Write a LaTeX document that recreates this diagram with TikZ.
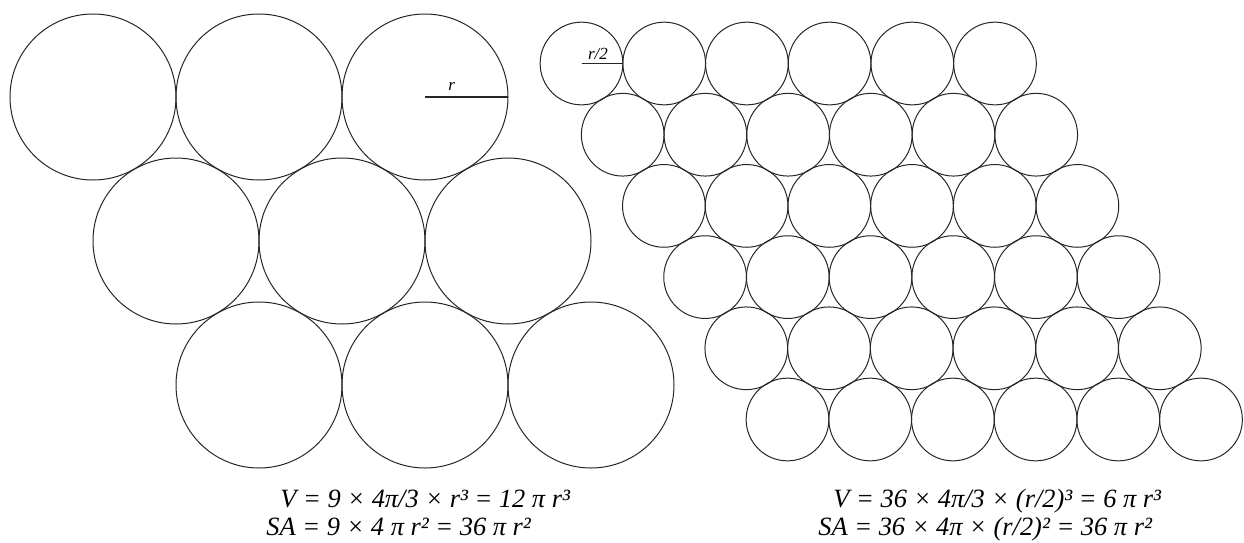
\documentclass[tikz,border=0pt]{standalone}
\usepackage{fontspec}
\setmainfont{Liberation Serif}
\usepackage{tikz}
\usetikzlibrary{positioning}

\begin{document}
\begin{tikzpicture}[
    x=0.5pt, y=-0.5pt,
    ball/.style={circle, draw=black!85, line width=0.5pt, inner sep=0pt,
                 outer sep=0pt, minimum size=#1},
    bigball/.style={ball=83pt},
    smallball/.style={ball=41.35pt},
    radius line/.style={draw=black!85, line width=0.6pt},
    radlabel/.style={font=\itshape\fontsize{8.5}{10}\selectfont, inner sep=1.5pt},
    formula/.style={font=\itshape\fontsize{13.2}{15}\selectfont, inner sep=0pt, anchor=base west}
]
\useasboundingbox (0,0) rectangle (1244,542);

% Large spheres, radius r
\foreach \row in {0,1,2}
  \foreach \col in {0,1,2}
    \node[bigball] (big-\row-\col) at ({93+166*\col+83*\row},{97+144*\row}) {};

% Small spheres, radius r/2
\foreach \row in {0,...,5}
  \foreach \col in {0,...,5}
    \node[smallball] (small-\row-\col) at ({581.5+82.7*\col+41.2*\row},{63.5+71.2*\row}) {};

% Radii
\draw[radius line] (big-0-2.center) -- node[radlabel, pos=0.32, above, inner sep=3pt] {r} (big-0-2.east);
\draw[radius line] (small-0-0.center) -- node[radlabel, pos=0.4, above] {r/2} (small-0-0.east);

% Formulas
\node[formula] (vol-big) at (280,507) {V = 9 × 4π/3 × r³ = 12 π r³};
\node[formula] (sa-big) at (266,535) {SA = 9 × 4 π r² = 36 π r²};
\node[formula] (vol-small) at (833,507) {V = 36 × 4π/3 × (r/2)³ = 6 π r³};
\node[formula] (sa-small) at (818,535) {SA = 36 × 4π × (r/2)² = 36 π r²};

\end{tikzpicture}
\end{document}
